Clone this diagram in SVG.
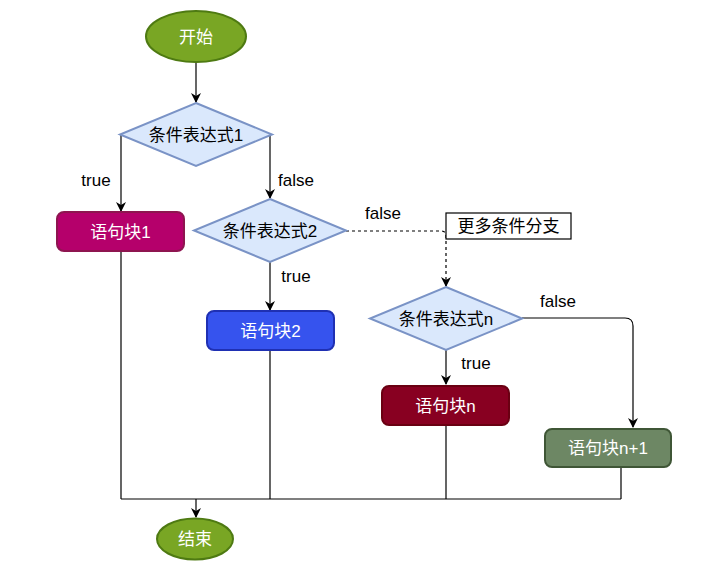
<svg xmlns="http://www.w3.org/2000/svg" width="717" height="570" viewBox="0 0 717 570">
<style>
text{font-family:"Liberation Sans","Noto Sans CJK SC",sans-serif;font-size:17px;text-anchor:middle;dominant-baseline:central}
.w{fill:#ffffff}
.k{fill:#000000}
.dia{fill:#dae8fc;stroke:#7a93c6;stroke-width:2}
.term{fill:#79a624;stroke:#4e7a12;stroke-width:2}
.blk{stroke-width:2}
.c{fill:none;stroke:#000000;stroke-width:1.2}
.d{stroke-dasharray:3 3}
</style>
<defs>
<marker id="ah" viewBox="0 0 10 10" refX="9" refY="5" markerWidth="10" markerHeight="10" markerUnits="userSpaceOnUse" orient="auto">
<path d="M0,0 L10,5 L0,10 L3,5 z" fill="#000"/>
</marker>
</defs>
<g id="connectors">
<path class="c" d="M196,62 L196,102" marker-end="url(#ah)"/>
<path class="c" d="M121,134 L121,211" marker-end="url(#ah)"/>
<path class="c" d="M270,134 L270,198" marker-end="url(#ah)"/>
<path class="c" d="M270,262 L270,310" marker-end="url(#ah)"/>
<path class="c d" d="M346,231 L441,231 Q446,231 446,236 L446,286" marker-end="url(#ah)"/>
<path class="c" d="M522,318 L625,318 Q633,318 633,326 L633,427" marker-end="url(#ah)"/>
<path class="c" d="M446,350 L446,384" marker-end="url(#ah)"/>
<path class="c" d="M121,251 L121,499 M270,350 L270,499 M446,425 L446,499 M621,467 L621,499 M121,499 L621,499"/>
<path class="c" d="M196,499 L196,517" marker-end="url(#ah)"/>
<text class="k" x="96" y="180">true</text>
<text class="k" x="296" y="180">false</text>
<text class="k" x="296" y="276">true</text>
<text class="k" x="383" y="213">false</text>
<text class="k" x="558" y="301">false</text>
<text class="k" x="476" y="363">true</text>
</g>
<g id="start">
<ellipse class="term" cx="196" cy="36.5" rx="50" ry="25.5"/>
<text class="w" x="196" y="37">开始</text>
</g>
<g id="cond1">
<polygon class="dia" points="196,103 272,134.5 196,166 120,134.5"/>
<text class="k" x="196" y="135">条件表达式1</text>
</g>
<g id="block1">
<rect class="blk" x="57" y="212" width="127" height="39" rx="7" fill="#b5006b" stroke="#8e1550"/>
<text class="w" x="120.5" y="232">语句块1</text>
</g>
<g id="cond2">
<polygon class="dia" points="270,199 346,230.5 270,262 194,230.5"/>
<text class="k" x="270" y="231">条件表达式2</text>
</g>
<g id="block2">
<rect class="blk" x="207" y="311" width="127" height="39" rx="7" fill="#3653ee" stroke="#1f30b3"/>
<text class="w" x="270.5" y="331">语句块2</text>
</g>
<g id="note">
<rect x="446" y="213" width="125" height="26" fill="#ffffff" stroke="#000000" stroke-width="1.2"/>
<text class="k" x="508.5" y="226.5">更多条件分支</text>
</g>
<g id="condn">
<polygon class="dia" points="446,287 522,318.5 446,350 370,318.5"/>
<text class="k" x="446" y="319">条件表达式n</text>
</g>
<g id="blockn">
<rect class="blk" x="382" y="386" width="127" height="39" rx="7" fill="#880021" stroke="#6a0012"/>
<text class="w" x="445.5" y="406">语句块n</text>
</g>
<g id="blockn1">
<rect class="blk" x="545" y="429" width="126" height="38" rx="7" fill="#6d8764" stroke="#3f5636"/>
<text class="w" x="608" y="448.5">语句块n+1</text>
</g>
<g id="end">
<ellipse class="term" cx="195" cy="539" rx="38" ry="20.5"/>
<text class="w" x="195" y="539.5">结束</text>
</g>
</svg>
